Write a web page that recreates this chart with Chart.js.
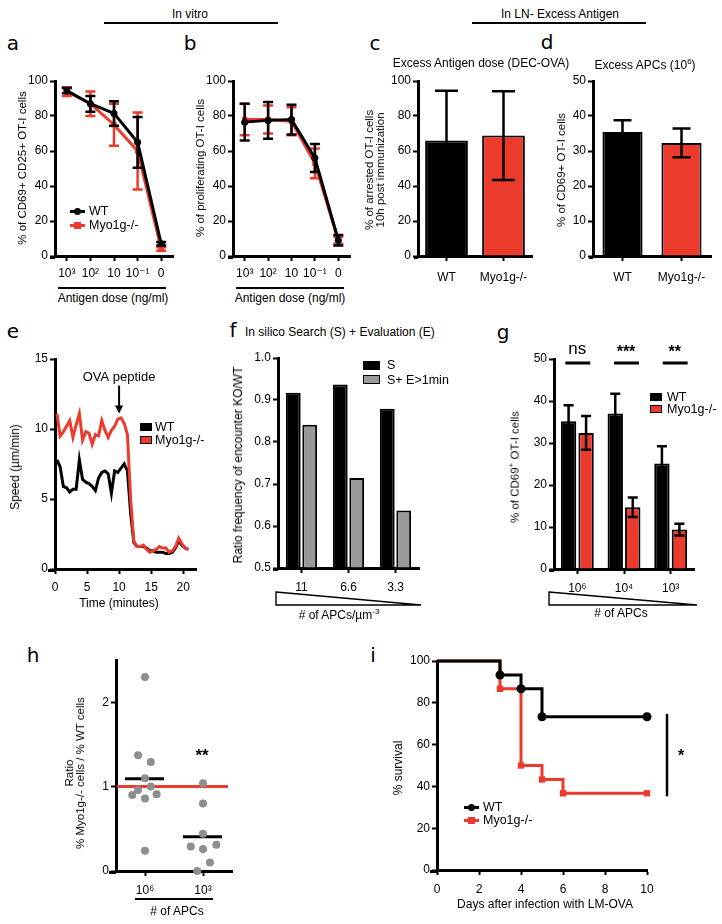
<!DOCTYPE html>
<html><head><meta charset="utf-8">
<script src="https://cdn.jsdelivr.net/npm/chart.js@4.4.1/dist/chart.umd.min.js"></script>
<style>
body{margin:0;background:#fff;width:722px;height:924px;position:relative;overflow:hidden;font-family:"Liberation Sans","DejaVu Sans",sans-serif;color:#000}
canvas{position:absolute}
.t{position:absolute;white-space:nowrap;font-size:11.5px;line-height:12px}
.c{transform:translate(-50%,-50%);text-align:center}
.l{transform:translate(0,-50%)}
.r{transform:translate(-50%,-50%) rotate(-90deg);text-align:center}
.lab{position:absolute;font-family:"DejaVu Sans",sans-serif;font-size:20px;line-height:20px;transform:translate(-50%,-50%)}
.bx{position:absolute;box-sizing:border-box}
</style></head><body>
<script>
// ---------------- DATA ----------------
const doseLabels = ['10³','10²','10','10⁻¹','0'];
const aWT = [94.5, 87, 81.5, 65, 7];
const aWTerr = [1.5, 4.5, 7, 14.5, 1];
const aKO = [94, 87, 75, 60, 4];
const aKOerr = [2.5, 7, 12, 22, 1];
const bWT = [76.5, 77.5, 78, 56, 9];
const bWTerr = [10.5, 10.5, 8.5, 8, 3];
const bKO = [78, 78, 77, 53, 9];
const bKOerr = [9, 8, 8, 8.5, 2];

const groupLabels = ['WT', 'Myo1g-/-'];
const cMean = [66, 68.8];
const cErr = [28.4, 25.4];
const dMean = [35.4, 32.3];
const dErr = [3.4, 4.1];

const eTime = [0.3,0.8,1.3,1.8,2.3,2.8,3.3,3.8,4.3,4.8,5.3,5.8,6.3,6.8,7.3,7.8,8.3,8.8,9.3,9.8,10.3,10.8,11.3,11.8,12.3,12.8,13.3,13.8,14.3,14.8,15.3,15.8,16.3,16.8,17.3,17.8,18.3,18.8,19.3,19.8,20.3,20.8];
const eKO = [11.1,9.5,9.8,10.2,10.6,9.4,10.3,11.1,9.2,9.8,9.7,8.9,9.6,9.5,10.6,9.9,9.4,9.9,10.2,10.7,10.8,10.4,9.6,5.0,2.0,1.6,1.6,1.7,1.4,1.2,1.3,1.4,1.6,1.5,1.5,1.2,1.3,1.6,2.2,1.8,1.5,1.4];
const eWT = [7.8,7.3,5.9,5.8,5.5,5.7,5.7,7.8,6.4,6.2,6.1,5.9,5.6,6.5,6.9,7.0,6.8,5.4,7.0,6.9,7.2,7.5,7.0,4.0,1.9,1.6,1.6,1.6,1.5,1.3,1.3,1.2,1.2,1.2,1.1,1.1,1.2,1.5,2.0,1.7,1.5,1.4];
const eTicks = [0, 5, 10, 15, 20];
const eStimTime = 10;

const fLabels = ['11','6.6','3.3'];
const fS = [0.917, 0.937, 0.879];
const fSE = [0.841, 0.714, 0.637];

const gLabels = ['10⁶','10⁴','10³'];
const gWT = [35.2, 37.0, 25.1];
const gWTerr = [3.8, 4.7, 4.1];
const gKO = [32.4, 14.7, 9.4];
const gKOerr = [4.0, 2.3, 1.4];
const gSig = ['ns','***','**'];

const hLabels = ['10⁶','10³'];
const h6 = [2.3, 1.37, 1.29, 1.1, 1.0, 0.96, 0.9, 0.91, 0.86, 0.24];
const h6jit = [0, -0.12, 0.1, 0, 0.1, -0.12, -0.22, 0.2, 0, 0];
const h3 = [1.04, 0.8, 0.44, 0.29, 0.26, 0.31, 0.1, 0.0];
const h3jit = [0, 0, 0, -0.21, 0, 0.23, 0.12, -0.1];
const hRef = 1;

const iWTdays = [0, 3, 4, 5, 10];
const iWT = [100, 93.3, 86.7, 73.3, 73.3];
const iKOdays = [0, 3, 4, 5, 6, 10];
const iKO = [100, 86.7, 50, 43.3, 36.7, 36.7];

// ---------------- HELPERS ----------------
const RED = '#ec3a2d';
const FONT = "'Liberation Sans', 'DejaVu Sans', sans-serif";

function merge(a, b){ for (const k in b){ if (b[k] && typeof b[k]==='object' && !Array.isArray(b[k]) && typeof b[k]!=='function' && a[k] && typeof a[k]==='object'){ merge(a[k], b[k]); } else a[k]=b[k]; } return a; }
function baseAxis(){ return { border:{color:'#000',width:3}, grid:{drawOnChartArea:false,drawTicks:true,tickLength:5,tickWidth:2,tickColor:'#000',color:'#000',offset:false}, ticks:{color:'#000',font:{family:FONT,size:12},padding:6,maxRotation:0,autoSkip:false} }; }
function place(box, pad){
  const c = document.createElement('canvas');
  const w = box.R-box.L+pad.l+pad.r, h = box.B-box.T+pad.t+pad.b;
  c.width=w; c.height=h; c.style.width=w+'px'; c.style.height=h+'px';
  c.style.left=(box.L-pad.l)+'px'; c.style.top=(box.T-pad.t)+'px';
  document.body.appendChild(c); return c;
}
// GraphPad-style: x axis line runs a few px left of the y axis
const xExtend = {id:'xExt', afterDraw(chart){
  const ext = chart.options.plugins.xExt && chart.options.plugins.xExt.left; if (!ext) return;
  const {ctx, chartArea} = chart; ctx.save(); ctx.strokeStyle='#000'; ctx.lineWidth=3;
  ctx.beginPath(); ctx.moveTo(chartArea.left-ext, chartArea.bottom+1.5); ctx.lineTo(chartArea.left, chartArea.bottom+1.5); ctx.stroke(); ctx.restore();
}};
function make(box, pad, type, data, xs, ys, plugins, ext){
  const c = place(box, pad);
  const x = merge(merge(baseAxis(), {afterFit:s=>{s.height=pad.b;}}), xs||{});
  const y = merge(merge(baseAxis(), {afterFit:s=>{s.width=pad.l;}, ticks:{padding:2}}), ys||{});
  return new Chart(c, {type, data, plugins:[errPlugin, xExtend].concat(plugins||[]), options:{
    responsive:false, animation:false, events:[],
    layout:{padding:{top:pad.t,right:pad.r,left:0,bottom:0}, autoPadding:false},
    plugins:{legend:{display:false}, tooltip:{enabled:false}, xExt:{left: ext||0}},
    scales:{x, y}
  }});
}
const errPlugin = {id:'err', afterDatasetDraw(chart, args){
  const ds = chart.data.datasets[args.index]; if (!ds.errors) return;
  const ys = chart.scales.y, ctx = chart.ctx;
  ctx.save(); ctx.strokeStyle = ds.errColor || '#000'; ctx.lineWidth = ds.errWidth || 2.5;
  args.meta.data.forEach((el, i) => {
    const v = ds.data[i], e = ds.errors[i]; if (e == null) return;
    const x = el.x, yt = ys.getPixelForValue(v+e), yb = ys.getPixelForValue(v-e), cw = ds.capWidth || 10;
    ctx.beginPath(); ctx.moveTo(x, yt); ctx.lineTo(x, yb);
    ctx.moveTo(x-cw/2, yt); ctx.lineTo(x+cw/2, yt);
    ctx.moveTo(x-cw/2, yb); ctx.lineTo(x+cw/2, yb); ctx.stroke();
  });
  ctx.restore();
}};
function txt(s, x, y, cls, st){ const d=document.createElement('div'); d.className='t '+(cls||'c'); d.innerHTML=s; d.style.left=x+'px'; d.style.top=y+'px'; if(st) Object.assign(d.style, st); document.body.appendChild(d); return d; }
function letter(s, x, y){ const d=document.createElement('div'); d.className='lab'; d.textContent=s; d.style.left=x+'px'; d.style.top=y+'px'; document.body.appendChild(d); }
function box(x, y, w, h, bg, border){ const d=document.createElement('div'); d.className='bx'; Object.assign(d.style,{left:x+'px',top:y+'px',width:w+'px',height:h+'px',background:bg}); if(border) d.style.border=border; document.body.appendChild(d); return d; }
function hline(x1, x2, y, th){ box(x1, y-th/2, x2-x1, th, '#000'); }
function lineLegend(x, y, color, marker, label){
  box(x, y-1.5, 15, 3, color);
  if (marker==='circle') { const d = box(x+4, y-3.5, 7, 7, color); d.style.borderRadius='50%'; }
  else box(x+4, y-3.5, 7, 7, color);
  txt(label, x+19, y, 'l', {fontSize:'12.5px'});
}

// ---------------- HEADERS & LETTERS ----------------
txt('In vitro', 190, 14, 'c', {fontSize:'12px'}); hline(104, 278, 23, 1.5);
txt('In LN- Excess Antigen', 560, 14, 'c', {fontSize:'12px'}); hline(472, 646, 23, 1.5);
letter('a', 13, 43); letter('b', 190, 43); letter('c', 375, 43); letter('d', 547, 42);
letter('e', 13, 331); letter('f', 233, 330); letter('g', 503, 332); letter('h', 33, 655); letter('i', 373, 655);

// ---------------- PANEL a ----------------
const padLine = {l:40, t:12, r:14, b:30};
function dosePanel(bx, wt, wtE, ko, koE){
  make(bx, padLine, 'line', {labels: doseLabels, datasets:[
    {data: wt, errors: wtE, errColor:'#000', borderColor:'#000', backgroundColor:'#000', borderWidth:3, pointStyle:'circle', pointRadius:3.5, pointBorderWidth:0, tension:0, clip:false},
    {data: ko, errors: koE, errColor:RED, borderColor:RED, backgroundColor:RED, borderWidth:3, pointStyle:'rect', pointRadius:3.8, pointBorderWidth:0, tension:0, clip:false}
  ]}, {offset:true, ticks:{padding:5}}, {min:0, max:100, ticks:{stepSize:20}}, [], 5);
}
dosePanel({L:55,T:81,R:173,B:256}, aWT, aWTerr, aKO, aKOerr);
txt('% of CD69+ CD25+ OT-I cells', 22, 168, 'r');
hline(58, 166, 288, 1.5); txt('Antigen dose (ng/ml)', 113, 298, 'c', {fontSize:'12px'});
lineLegend(70, 211, '#000', 'circle', 'WT');
lineLegend(70, 225, RED, 'rect', 'Myo1g-/-');

// ---------------- PANEL b ----------------
dosePanel({L:233,T:81,R:350,B:256}, bWT, bWTerr, bKO, bKOerr);
txt('% of proliferating OT-I cells', 200, 168, 'r');
hline(236, 344, 288, 1.5); txt('Antigen dose (ng/ml)', 290, 298, 'c', {fontSize:'12px'});

// ---------------- PANEL c / d ----------------
function twoBar(bx, mean, err, max, step, cap, bp){
  make(bx, {l:40, t:12, r:14, b:30}, 'bar', {labels: groupLabels, datasets:[
    {data: mean, errors: err, capWidth: cap, backgroundColor:['#000', RED], borderColor:'#000', borderWidth:2, barPercentage:bp, categoryPercentage:1, borderSkipped:'bottom'}
  ]}, {ticks:{padding:9}}, {min:0, max:max, ticks:{stepSize:step}}, [], 4);
}
twoBar({L:418,T:81,R:532,B:256}, cMean, cErr, 100, 20, 23, 0.75);
txt('Excess Antigen dose (DEC-OVA)', 481, 63, 'c', {fontSize:'12px'});
txt('% of arrested OT-I cells<br>10h post immunization', 375, 170, 'r', {lineHeight:'11px'});
twoBar({L:593,T:81,R:711,B:256}, dMean, dErr, 50, 10, 18, 0.68);
txt('Excess APCs (10<sup style="font-size:8px">6</sup>)', 645, 63, 'c', {fontSize:'12px'});
txt('% of CD69+ OT-I cells', 561, 170, 'r');

// ---------------- PANEL e ----------------
const ePlug = {id:'eArrow', afterDraw(chart){
  const {ctx, scales:{x, y}} = chart; const px = x.getPixelForValue(eStimTime);
  const y1 = y.getPixelForValue(13.1), y2 = y.getPixelForValue(11.1);
  ctx.save(); ctx.strokeStyle='#000'; ctx.fillStyle='#000'; ctx.lineWidth=2;
  ctx.beginPath(); ctx.moveTo(px, y1); ctx.lineTo(px, y2-6); ctx.stroke();
  ctx.beginPath(); ctx.moveTo(px-4, y2-8); ctx.lineTo(px+4, y2-8); ctx.lineTo(px, y2); ctx.closePath(); ctx.fill();
  ctx.font = "13px " + FONT; ctx.textAlign='center'; ctx.textBaseline='middle';
  ctx.fillText('OVA peptide', px, y.getPixelForValue(13.7));
  ctx.restore();
}};
make({L:55,T:359,R:196,B:569}, {l:40, t:12, r:14, b:30}, 'line', {datasets:[
  {data: eTime.map((t,i)=>({x:t, y:eKO[i]})), borderColor:RED, borderWidth:3, pointRadius:0, tension:0},
  {data: eTime.map((t,i)=>({x:t, y:eWT[i]})), borderColor:'#000', borderWidth:3, pointRadius:0, tension:0}
]}, {type:'linear', min:0, max:22, afterBuildTicks:s=>{s.ticks=eTicks.map(v=>({value:v}));}, ticks:{stepSize:5}},
{min:0, max:15, ticks:{stepSize:5}}, [ePlug], 7);
txt('Speed (µm/min)', 15, 467, 'r', {fontSize:'12px'});
txt('Time (minutes)', 119, 603, 'c', {fontSize:'12px'});
box(140, 423, 12, 8, '#000');
txt('WT', 155, 427, 'l', {fontSize:'12.5px'});
box(140, 436, 12, 8, RED, '1.5px solid #000');
txt('Myo1g-/-', 155, 440, 'l', {fontSize:'12.5px'});

// ---------------- PANEL f ----------------
make({L:278,T:358,R:419,B:568}, {l:40, t:12, r:14, b:30}, 'bar', {labels: fLabels, datasets:[
  {data: fS, backgroundColor:'#000', borderColor:'#000', borderWidth:2, base:0.5, barPercentage:0.9, categoryPercentage:0.7},
  {data: fSE, backgroundColor:'#999999', borderColor:'#000', borderWidth:2, base:0.5, barPercentage:0.9, categoryPercentage:0.7}
]}, {ticks:{padding:7}}, {min:0.5, max:1.0, ticks:{stepSize:0.1, callback:v=>v.toFixed(1)}}, [], 5);
txt('In silico Search (S) + Evaluation (E)', 245, 332, 'l', {fontSize:'12px'});
txt('Ratio frequency of encounter KO/WT', 238, 465, 'r', {fontSize:'12px'});
box(363, 361, 17, 9, '#000'); txt('S', 387, 365, 'l', {fontSize:'12.5px'});
box(363, 375, 17, 9, '#999', '1.5px solid #000'); txt('S+ E&gt;1min', 387, 380, 'l', {fontSize:'12.5px'});
txt('# of APCs/µm<sup style="font-size:8px">-3</sup>', 339, 613, 'c', {fontSize:'12px'});

// ---------------- PANEL g ----------------
const gPlug = {id:'gSig', afterDraw(chart){
  const {ctx, scales:{x}, chartArea} = chart;
  ctx.save(); ctx.strokeStyle='#000'; ctx.fillStyle='#000'; ctx.lineWidth=3;
  ctx.textAlign='center'; ctx.textBaseline='middle';
  gSig.forEach((s,i)=>{ const px = x.getPixelForValue(i) + 2*i;
    ctx.beginPath(); ctx.moveTo(px-12, chartArea.top+4); ctx.lineTo(px+13, chartArea.top+4); ctx.stroke();
    ctx.font = (s==='ns' ? "17px " : "bold 16px ") + FONT;
    ctx.fillText(s, px, chartArea.top - (s==='ns' ? 10 : 6));
  });
  ctx.restore();
}};
make({L:554,T:359,R:694,B:569}, {l:40, t:26, r:14, b:30}, 'bar', {labels: gLabels, datasets:[
  {data: gWT, errors: gWTerr, capWidth:10, backgroundColor:'#000', borderColor:'#000', borderWidth:2, barPercentage:0.88, categoryPercentage:0.75},
  {data: gKO, errors: gKOerr, capWidth:10, backgroundColor:RED, borderColor:'#000', borderWidth:2, barPercentage:0.88, categoryPercentage:0.75}
]}, {ticks:{padding:7}}, {min:0, max:50, ticks:{stepSize:10}}, [gPlug], 5);
txt('% of CD69<sup style="font-size:8px">+</sup> OT-I cells', 513, 467, 'r');
box(650, 393, 12, 8, '#000'); txt('WT', 667, 397, 'l', {fontSize:'12.5px'});
box(650, 405, 12, 8, RED, '1.5px solid #000'); txt('Myo1g-/-', 667, 409, 'l', {fontSize:'12.5px'});
txt('# of APCs', 621, 613, 'c', {fontSize:'12px'});

// triangles for f and g
(function(){
  const ns='http://www.w3.org/2000/svg';
  const svg=document.createElementNS(ns,'svg'); svg.setAttribute('width','722'); svg.setAttribute('height','924');
  svg.style.position='absolute'; svg.style.left='0'; svg.style.top='0';
  [[276,421],[549,697]].forEach(([a,b])=>{ const p=document.createElementNS(ns,'polygon');
    p.setAttribute('points', `${a},592 ${b},605 ${a},605`); p.setAttribute('fill','none'); p.setAttribute('stroke','#000'); p.setAttribute('stroke-width','1.4'); svg.appendChild(p); });
  document.body.appendChild(svg);
})();

// ---------------- PANEL h ----------------
const hPlug = {id:'hLines', beforeDatasetsDraw(chart){
  const {ctx, scales:{x, y}, chartArea} = chart;
  ctx.save(); ctx.lineWidth=3;
  ctx.strokeStyle=RED; ctx.beginPath(); const yr = y.getPixelForValue(hRef);
  ctx.moveTo(chartArea.left+1, yr); ctx.lineTo(chartArea.right-4, yr); ctx.stroke();
  ctx.strokeStyle='#000';
  [h6, h3].forEach((arr,k)=>{ const m = arr.reduce((a,b)=>a+b,0)/arr.length;
    const px = x.getPixelForValue(k), py = y.getPixelForValue(m);
    ctx.beginPath(); ctx.moveTo(px-20, py); ctx.lineTo(px+19, py); ctx.stroke(); });
  ctx.restore();
}};
make({L:116,T:660,R:232,B:871}, {l:40, t:10, r:14, b:30}, 'scatter', {datasets:[
  {data: h6.map((v,i)=>({x:0+h6jit[i], y:v})), backgroundColor:'#8e8e8e', borderWidth:0, pointRadius:4, clip:false},
  {data: h3.map((v,i)=>({x:1+h3jit[i], y:v})), backgroundColor:'#8e8e8e', borderWidth:0, pointRadius:4, clip:false}
]}, {type:'linear', min:-0.5, max:1.5, afterBuildTicks:s=>{s.ticks=[{value:0},{value:1}];}, ticks:{padding:7, callback:v=>hLabels[v]}},
{min:0, max:2.5, afterBuildTicks:s=>{s.ticks=s.ticks.filter(t=>Number.isInteger(t.value));}, ticks:{stepSize:1}}, [hPlug], 7);
txt('Ratio<br>% Myo1g-/- cells / % WT cells', 75, 773, 'r', {lineHeight:'11px'});
hline(135, 213, 899, 1.5); txt('# of APCs', 177, 911, 'c', {fontSize:'12px'});
txt('**', 202, 756, 'c', {fontSize:'17px', fontWeight:'bold'});

// ---------------- PANEL i ----------------
const iPlug = {id:'iSig', afterDraw(chart){
  const {ctx, scales:{x, y}} = chart;
  const px = x.getPixelForValue(iWTdays[iWTdays.length-1]) + 20;
  const y1 = y.getPixelForValue(iWT[iWT.length-1]), y2 = y.getPixelForValue(iKO[iKO.length-1]);
  ctx.save(); ctx.strokeStyle='#000'; ctx.lineWidth=2.5; ctx.beginPath(); ctx.moveTo(px, y1-3); ctx.lineTo(px, y2+3); ctx.stroke();
  ctx.fillStyle='#000'; ctx.font="bold 16px " + FONT; ctx.textAlign='center'; ctx.textBaseline='middle';
  ctx.fillText('*', px+14, (y1+y2)/2 + 2);
  ctx.restore();
}};
make({L:437,T:661,R:647,B:870}, {l:40, t:10, r:45, b:30}, 'line', {datasets:[
  {data: iWTdays.map((d,i)=>({x:d, y:iWT[i]})), stepped:'before', borderColor:'#000', backgroundColor:'#000', borderWidth:3, pointStyle:'circle', pointRadius:c=>c.dataIndex===0?0:4.5, pointBorderWidth:0, clip:false},
  {data: iKOdays.map((d,i)=>({x:d, y:iKO[i]})), stepped:'before', borderColor:RED, backgroundColor:RED, borderWidth:3, pointStyle:'rect', pointRadius:c=>c.dataIndex===0?0:4.5, pointBorderWidth:0, clip:false}
]}, {type:'linear', min:0, max:10, ticks:{stepSize:2, padding:7}}, {min:0, max:100, ticks:{stepSize:20}}, [iPlug], 7);
txt('% survival', 398, 768, 'r', {fontSize:'12px'});
txt('Days after infection with LM-OVA', 545, 904, 'c', {fontSize:'12px'});
lineLegend(464, 807, '#000', 'circle', 'WT');
lineLegend(464, 820, RED, 'rect', 'Myo1g-/-');
</script>
</body></html>
